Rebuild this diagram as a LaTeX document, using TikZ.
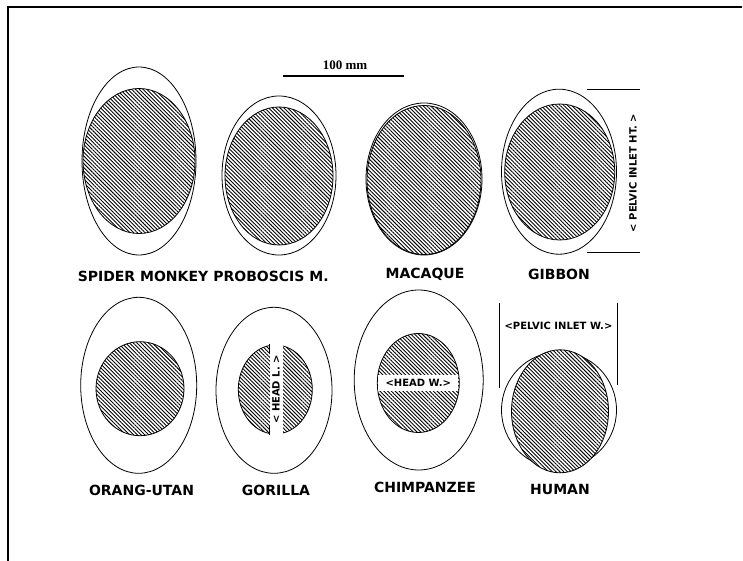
\documentclass[tikz,border=0pt]{standalone}
\usepackage{fontspec}
\setsansfont{DejaVu Sans}
\newfontfamily\barfont{Liberation Serif}
\usepackage{tikz}
\usetikzlibrary{shapes.geometric,patterns.meta,positioning}

\begin{document}
\begin{tikzpicture}[
    x=1pt, y=-1pt,
    pelvis/.style 2 args={ellipse, draw, line width=0.8pt, inner sep=0pt, minimum width=#1, minimum height=#2},
    head/.style 2 args={ellipse, draw, line width=0.8pt, inner sep=0pt, minimum width=#1, minimum height=#2,
      preaction={fill=white}, pattern={Lines[angle=-45,distance=2.7pt,line width=0.9pt]}},
    lab/.style={font=\sffamily\bfseries\fontsize{14}{14}\selectfont, inner sep=0pt},
    dim/.style={font=\sffamily\bfseries\fontsize{10}{10}\selectfont, inner sep=0pt}
  ]
    \useasboundingbox (0,0) rectangle (743,561);
    % frame
    \draw[line width=2.6pt] (8,561) -- (8,7) -- (742,7);

    % scale bar
    \node[font=\barfont\bfseries\fontsize{13}{13}\selectfont, inner sep=0pt] (scale) at (345,65) {100 mm};
    \coordinate (sa) at (283,75.7);
    \coordinate (sb) at (404,75.7);
    \draw[line width=2pt] (sa) -- (sb);

    % top row
    \node[pelvis={114pt}{188pt}] (spider) at (139,161) {};
    \node[head={112pt}{145pt}] (spiderhead) at (139,161) {};
    \node[lab] (spiderlab) at (143,276) {SPIDER MONKEY};

    \node[pelvis={114pt}{159pt}] (prob) at (279,175.5) {};
    \node[head={108pt}{138pt}] (probhead) at (279,176) {};
    \node[lab] (problab) at (271,276) {PROBOSCIS M.};

    \node[pelvis={116pt}{152pt}] (mac) at (424,179) {};
    \node[head={114pt}{149pt}] (machead) at (424,180) {};
    \node[lab] (maclab) at (425,274) {MACAQUE};

    \node[pelvis={115pt}{165pt}] (gib) at (559,171.7) {};
    \node[head={110pt}{136pt}] (gibhead) at (559.7,172) {};
    \node[lab] (giblab) at (559,274) {GIBBON};

    % pelvic inlet height
    \coordinate (ht1) at (587,89.3);
    \coordinate (ht2) at (640,89.3);
    \coordinate (ht3) at (587,252.7);
    \coordinate (ht4) at (640,252.7);
    \draw[line width=0.8pt] (ht1) -- (ht2);
    \draw[line width=0.8pt] (ht3) -- (ht4);
    \node[dim, rotate=90] (htlab) at (633,173) {< PELVIC INLET HT. >};

    % bottom row
    \node[pelvis={116pt}{176pt}] (orang) at (138.7,385.3) {};
    \node[head={88pt}{94pt}] (oranghead) at (140,388.7) {};
    \node[lab] (oranglab) at (141.5,490) {ORANG-UTAN};

    \node[pelvis={116pt}{166pt}] (gor) at (274,390.3) {};
    \node[head={74pt}{89pt}] (gorhead) at (275.3,389.5) {};
    \node[dim, rotate=90, fill=white, minimum width=91pt, minimum height=13pt] (headl) at (276,389.5) {< HEAD L. >};
    \draw[line width=0.8pt] (headl.north east) -- ++(0,9);
    \draw[line width=0.8pt] (headl.north west) -- ++(0,-9);
    \node[lab] (gorlab) at (276,490) {GORILLA};

    \node[pelvis={129pt}{180pt}] (chimp) at (418.7,380) {};
    \node[head={82pt}{99pt}] (chimphead) at (418.3,383) {};
    \node[dim, fill=white, minimum width=80pt, minimum height=16pt] (headw) at (418.3,383) {<HEAD W.>};
    \node[lab] (chimplab) at (425,487) {CHIMPANZEE};

    \node[pelvis={115pt}{116pt}] (hum) at (559,410) {};
    \node[head={97pt}{123pt}] (humhead) at (560,411.3) {};
    \node[lab] (humlab) at (560,489) {HUMAN};

    % pelvic inlet width
    \coordinate (w1) at (499.3,302.7);
    \coordinate (w2) at (499.3,388);
    \coordinate (w3) at (617.7,302.7);
    \coordinate (w4) at (617.7,385);
    \draw[line width=0.8pt] (w1) -- (w2);
    \draw[line width=0.8pt] (w3) -- (w4);
    \node[dim] (wlab) at (558.5,326) {<PELVIC INLET W.>};
  \end{tikzpicture}
\end{document}
